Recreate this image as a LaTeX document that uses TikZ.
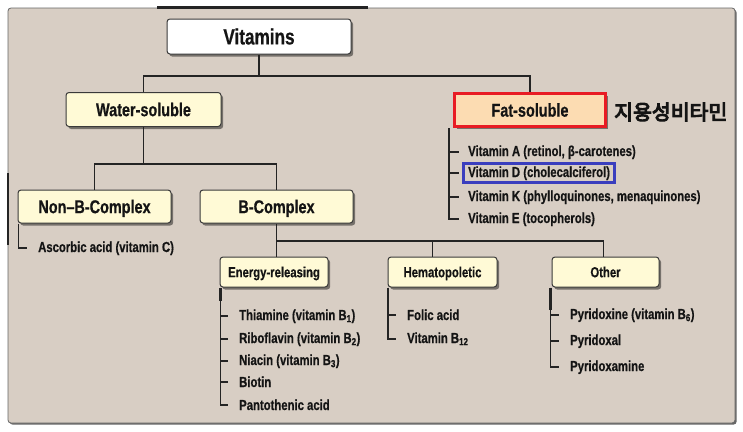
\documentclass[tikz,border=0pt]{standalone}
\usepackage{fontspec}
\newfontfamily\nar{Liberation Sans}[FakeStretch=0.78, BoldFeatures={FakeBold=0.6}]
\newfontfamily\kor{Noto Sans CJK KR}[FakeBold=5]
\usetikzlibrary{shadows,fit}
\definecolor{panel}{RGB}{216,206,196}
\definecolor{boxy}{RGB}{255,250,214}
\definecolor{peach}{RGB}{252,220,178}
\definecolor{redb}{RGB}{232,28,36}
\definecolor{blueb}{RGB}{58,62,190}
\definecolor{ln}{RGB}{36,36,36}
\definecolor{txt}{RGB}{20,20,20}
\begin{document}
\begin{tikzpicture}[x=1pt,y=-1pt,
  conn/.style={draw=ln, line width=1.7pt},
  thick seg/.style={draw=ln, line width=2.7pt},
  box/.style={draw=ln!90, line width=1pt, rounded corners=3pt, fill=boxy,
    inner sep=0pt, text=txt, align=center,
    drop shadow={shadow xshift=2.2pt, shadow yshift=-2.5pt, opacity=0.45, fill=black},
    font=\nar\bfseries\fontsize{18.5}{20}\selectfont, text height=13.3pt, text depth=0pt},
  sbox/.style={box, minimum height=30pt,
    font=\nar\bfseries\fontsize{14.5}{16}\selectfont, text height=10.4pt, text depth=0pt},
  item/.style={anchor=base west, inner sep=0pt, text=txt,
    font=\nar\bfseries\fontsize{14.5}{16}\selectfont}
]
\useasboundingbox (0,0) rectangle (743,431);
\fill[white] (0,0) rectangle (743,431);
% panel
\draw[draw=ln!70, line width=0.8pt, fill=panel, rounded corners=3pt,
  drop shadow={shadow xshift=1.6pt, shadow yshift=-1.6pt, opacity=0.6, fill=black}]
  (8,8) rectangle (735,423);
\draw[thick seg] (157,7.5) -- (368,7.5);
\draw[draw=ln, line width=2pt] (8,173) -- (8,245);

% boxes
\node[box, fill=white, minimum width=184pt, minimum height=35pt,
  font=\nar\bfseries\fontsize{22}{24}\selectfont, text height=15.8pt] (vit) at (259,36.5) {Vitamins};
\node[box, minimum width=155pt, minimum height=34pt] (ws) at (143.5,109.5) {Water-soluble};
\node[box, fill=peach, draw=redb, line width=3.4pt, rounded corners=0pt,
  minimum width=151pt, minimum height=33pt] (fs) at (530,110) {Fat-soluble};
\node[anchor=west, inner sep=0pt, text=txt, font=\kor\fontsize{20.5}{22}\selectfont] (kr) at (614,112) {지용성비타민};
\node[box, minimum width=153pt, minimum height=33pt] (nb) at (94.5,206.5) {Non–B-Complex};
\node[box, minimum width=153pt, minimum height=33pt] (bc) at (276.5,206.5) {B-Complex};
\node[sbox, minimum width=108pt] (er) at (274,272) {Energy-releasing};
\node[sbox, minimum width=109pt] (hem) at (442.5,272) {Hematopoletic};
\node[sbox, minimum width=107pt] (oth) at (605.5,272) {Other};

% tree connectors
\coordinate (j1) at (259,76);
\coordinate (j2) at (0,164);
\coordinate (j3) at (0,241);
\draw[conn] (vit.south) -- (j1);
\draw[conn] (ws.north) -- (ws.north |- j1) -- (fs.north |- j1) -- (fs.north);
\draw[thick seg] (157,76) -- (368,76);
\draw[conn] (ws.south) -- (ws.south |- j2);
\draw[conn] (nb.north) -- (nb.north |- j2) -- (bc.north |- j2) -- (bc.north);
\draw[conn] (bc.south) -- (er.north -| bc.south);
\draw[conn] (bc.south |- j3) -- ([xshift=-2pt]oth.north |- j3) -- ([xshift=-2pt]oth.north);
\draw[conn] ([xshift=-10pt]hem.north) -- ([xshift=-10pt]hem.north |- j3);

% Fat-soluble items
\node[item] (f1) at (468,156) {Vitamin A (retinol, β-carotenes)};
\node[item] (f2) at (468,177) {Vitamin D (cholecalciferol)};
\node[item] (f3) at (468,201) {Vitamin K (phylloquinones, menaquinones)};
\node[item] (f4) at (468,223) {Vitamin E (tocopherols)};
\node[draw=blueb, line width=2.8pt, inner xsep=4.5pt, inner ysep=2.5pt, fit=(f2)] (fd) {};
\coordinate (fb) at ([xshift=-3.5pt]fs.south west);
\draw[conn] (fb) |- ([xshift=-9pt]f4.west);
\foreach \i in {1,2,3} \draw[conn] (fb |- f\i.west) -- ([xshift=-9pt]f\i.west);

% Non-B items
\node[item] (a1) at (38,252) {Ascorbic acid (vitamin C)};
\coordinate (ab) at ([xshift=1pt]nb.south west);
\draw[conn] (ab) |- ([xshift=-11pt]a1.west);

% Energy-releasing items
\node[item] (e1) at (239,320) {Thiamine (vitamin B\textsubscript{1})};
\node[item] (e2) at (239,343) {Riboflavin (vitamin B\textsubscript{2})};
\node[item] (e3) at (239,365) {Niacin (vitamin B\textsubscript{3})};
\node[item] (e4) at (239,387) {Biotin};
\node[item] (e5) at (239,410) {Pantothenic acid};
\coordinate (eb) at ([xshift=1pt]er.south west);
\draw[conn] (eb) |- ([xshift=-11pt]e5.west);
\draw[thick seg] (eb) -- ++(0,13);
\foreach \i in {1,2,3,4} \draw[conn] (eb |- e\i.west) -- ([xshift=-11pt]e\i.west);

% Hematopoietic items
\node[item] (h1) at (407,320) {Folic acid};
\node[item] (h2) at (407,343) {Vitamin B\textsubscript{12}};
\coordinate (hb) at ([xshift=0.5pt]hem.south west);
\draw[conn] (hb) |- ([xshift=-11pt]h2.west);
\draw[thick seg] (hb) -- ++(0,14);
\draw[conn] (hb |- h1.west) -- ([xshift=-11pt]h1.west);

% Other items
\node[item] (o1) at (570,319) {Pyridoxine (vitamin B\textsubscript{6})};
\node[item] (o2) at (570,345) {Pyridoxal};
\node[item] (o3) at (570,371) {Pyridoxamine};
\coordinate (ob) at ([xshift=-1pt]oth.south west);
\draw[conn] (ob) |- ([xshift=-11pt]o3.west);
\draw[thick seg] (ob) -- ++(0,22);
\foreach \i in {1,2} \draw[conn] (ob |- o\i.west) -- ([xshift=-11pt]o\i.west);
\end{tikzpicture}
\end{document}
